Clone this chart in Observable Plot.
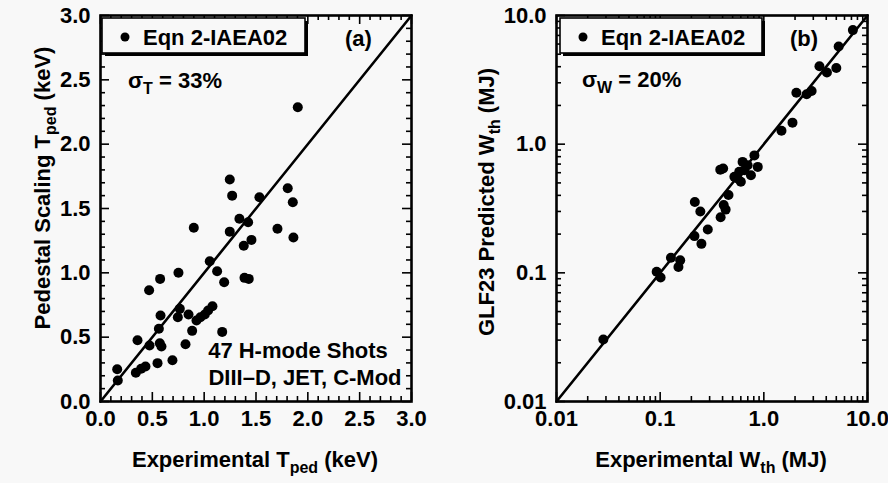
<!DOCTYPE html>
<html>
<head>
<meta charset="utf-8">
<script src="https://cdn.jsdelivr.net/npm/d3@7"></script>
<script src="https://cdn.jsdelivr.net/npm/@observablehq/plot@0.6"></script>
<style>
  html, body { margin: 0; padding: 0; background: #f8f8f8; }
  #wrap { position: relative; width: 888px; height: 483px; overflow: hidden; }
  #wrap svg { position: absolute; top: 0; }
</style>
</head>
<body>
<div id="wrap"></div>
<script>
// ---------- Data ----------
// Panel (a): experimental vs scaling T_ped (keV)
const tExp  = [1.247,1.27,1.806,1.855,1.533,0.90,1.34,1.424,1.247,1.707,1.861,1.456,1.382,1.054,0.752,1.125,1.193,1.389,1.43,0.575,0.469,0.765,1.08,1.038,1.006,0.964,0.926,0.849,0.746,0.579,0.563,0.884,1.174,0.357,0.473,0.572,0.588,0.82,0.694,0.55,0.434,0.392,0.341,0.161,0.167,1.903];
const tPred = [1.725,1.60,1.657,1.549,1.588,1.35,1.42,1.393,1.32,1.342,1.274,1.256,1.21,1.09,1.0,1.013,0.927,0.961,0.953,0.953,0.865,0.72,0.74,0.707,0.676,0.655,0.629,0.676,0.655,0.668,0.565,0.549,0.541,0.476,0.435,0.453,0.427,0.445,0.321,0.298,0.272,0.254,0.223,0.251,0.163,2.287];
// Panel (b): experimental vs predicted W_th (MJ)
const wExp  = [0.0283,0.0925,0.101,0.127,0.156,0.150,0.214,0.25,0.288,0.244,0.216,0.383,0.428,0.41,0.456,0.405,0.38,0.624,0.698,0.811,0.874,0.751,0.579,0.557,0.649,0.52,0.60,1.48,1.89,2.06,2.59,2.89,3.44,4.06,5.0,5.27,7.23];
const wPred = [0.0303,0.102,0.092,0.131,0.125,0.111,0.193,0.168,0.217,0.30,0.355,0.27,0.31,0.337,0.403,0.646,0.634,0.728,0.686,0.818,0.666,0.574,0.610,0.541,0.628,0.557,0.51,1.27,1.47,2.51,2.44,2.59,4.03,3.61,3.91,5.74,7.7];
// Axes
const linDomain = [0, 3];
const linTicks = [0, 0.5, 1, 1.5, 2, 2.5, 3];
const linTickLabels = ["0.0","0.5","1.0","1.5","2.0","2.5","3.0"];
const linMinor = [0.1,0.2,0.3,0.4,0.6,0.7,0.8,0.9,1.1,1.2,1.3,1.4,1.6,1.7,1.8,1.9,2.1,2.2,2.3,2.4,2.6,2.7,2.8,2.9];
const logDomain = [0.01, 10];
const logTicks = [0.01, 0.1, 1, 10];
const logTickLabels = ["0.01","0.1","1.0","10.0"];
const logMinor = [0.02,0.03,0.04,0.05,0.06,0.07,0.08,0.09,0.2,0.3,0.4,0.5,0.6,0.7,0.8,0.9,2,3,4,5,6,7,8,9];
const diagLin = [0, 3];
const diagLog = [0.01, 10];
const legendLabel = "Eqn 2-IAEA02";

// ---------- Drawing ----------
const FONT = "'Liberation Sans', Arial, Helvetica, sans-serif";
const H = 483, MT = 15, MB = 82;
const innerH = H - MT - MB;

function tickMarks(major, minor) {
  const mj = 9, mn = 5, sw = 1.6;
  const innerW = 311;
  const out = [];
  for (const [vals, len] of [[major, mj], [minor, mn]]) {
    out.push(Plot.tickX(vals, {x: d => d, insetTop: innerH - len, stroke: "black", strokeWidth: sw}));
    out.push(Plot.tickX(vals, {x: d => d, insetBottom: innerH - len, stroke: "black", strokeWidth: sw}));
    out.push(Plot.tickY(vals, {y: d => d, insetRight: innerW - len, stroke: "black", strokeWidth: sw}));
    out.push(Plot.tickY(vals, {y: d => d, insetLeft: innerW - len, stroke: "black", strokeWidth: sw}));
  }
  return out;
}

function makePanel({type, domain, ticks, labels, minor, diag, xs, ys, ml, mr, left}) {
  const fmt = d => labels[ticks.findIndex(t => Math.abs(t - d) < 1e-9)];
  const data = xs.map((x, i) => ({x, y: ys[i]}));
  const svg = Plot.plot({
    width: 444, height: H,
    marginLeft: ml, marginRight: mr, marginTop: MT, marginBottom: MB,
    style: {background: "transparent", fontFamily: FONT, fontSize: "22px", fontWeight: "bold", color: "black"},
    x: {type, domain, ticks, tickFormat: fmt, tickSize: 0, tickPadding: 9, label: null},
    y: {type, domain, ticks, tickFormat: fmt, tickSize: 0, tickPadding: 10, label: null},
    marks: [
      ...tickMarks(ticks, minor),
      Plot.line(diag, {x: d => d, y: d => d, stroke: "black", strokeWidth: 2.6}),
      Plot.dot(data, {x: "x", y: "y", r: 5, fill: "black", stroke: "none"}),
      Plot.frame({stroke: "black", strokeWidth: 2.6})
    ]
  });
  svg.style.left = left + "px";
  document.getElementById("wrap").appendChild(svg);
  return d3.select(svg);
}

function addText(g, x, y, parts, opts = {}) {
  const t = g.append("text")
    .attr("x", x).attr("y", y)
    .attr("font-family", FONT).attr("font-weight", "bold").attr("font-size", opts.size || 22)
    .attr("fill", "black")
    .attr("text-anchor", opts.anchor || "start");
  if (opts.transform) t.attr("transform", opts.transform).attr("x", 0).attr("y", 0);
  for (const p of parts) {
    const s = t.append("tspan").text(p.t);
    if (p.sub) s.attr("font-size", 16).attr("dy", 6);
    if (p.up) s.attr("dy", -6);
  }
  return t;
}

function legend(g, x0, w, label, tag, tagX) {
  g.append("rect").attr("x", x0 + 3).attr("y", 21).attr("width", w).attr("height", 35).attr("fill", "black");
  g.append("rect").attr("x", x0).attr("y", 18).attr("width", w).attr("height", 35)
    .attr("fill", "#f8f8f8").attr("stroke", "black").attr("stroke-width", 1.6);
  g.append("circle").attr("cx", x0 + 23).attr("cy", 37).attr("r", 4.5).attr("fill", "black");
  addText(g, x0 + 41, 45, [{t: label}]);
  addText(g, tagX, 46, [{t: tag}]);
}

// Panel (a)
const A = makePanel({type: "linear", domain: linDomain, ticks: linTicks, labels: linTickLabels,
  minor: linMinor, diag: diagLin, xs: tExp, ys: tPred, ml: 100, mr: 33, left: 0});
legend(A, 102, 203, legendLabel, "(a)", 345);
addText(A, 128, 88, [{t: "σ"}, {t: "T", sub: true}, {t: " = 33%", up: true}]);
addText(A, 298, 358, [{t: "47 H-mode Shots"}], {anchor: "middle"});
addText(A, 305, 385, [{t: "DIII–D, JET, C-Mod"}], {anchor: "middle"});
addText(A, 0, 0, [{t: "Pedestal Scaling T"}, {t: "ped", sub: true}, {t: " (keV)", up: true}],
  {anchor: "middle", transform: "translate(50,188) rotate(-90)"});
addText(A, 255, 467, [{t: "Experimental T"}, {t: "ped", sub: true}, {t: " (keV)", up: true}], {anchor: "middle"});

// Panel (b)
const B = makePanel({type: "log", domain: logDomain, ticks: logTicks, labels: logTickLabels,
  minor: logMinor, diag: diagLog, xs: wExp, ys: wPred, ml: 112, mr: 21, left: 444});
legend(B, 116, 202, legendLabel, "(b)", 346);
addText(B, 138, 87, [{t: "σ"}, {t: "W", sub: true}, {t: " = 20%", up: true}]);
addText(B, 0, 0, [{t: "GLF23 Predicted W"}, {t: "th", sub: true}, {t: " (MJ)", up: true}],
  {anchor: "middle", transform: "translate(50,202) rotate(-90)"});
addText(B, 267, 467, [{t: "Experimental W"}, {t: "th", sub: true}, {t: " (MJ)", up: true}], {anchor: "middle"});
</script>
</body>
</html>
